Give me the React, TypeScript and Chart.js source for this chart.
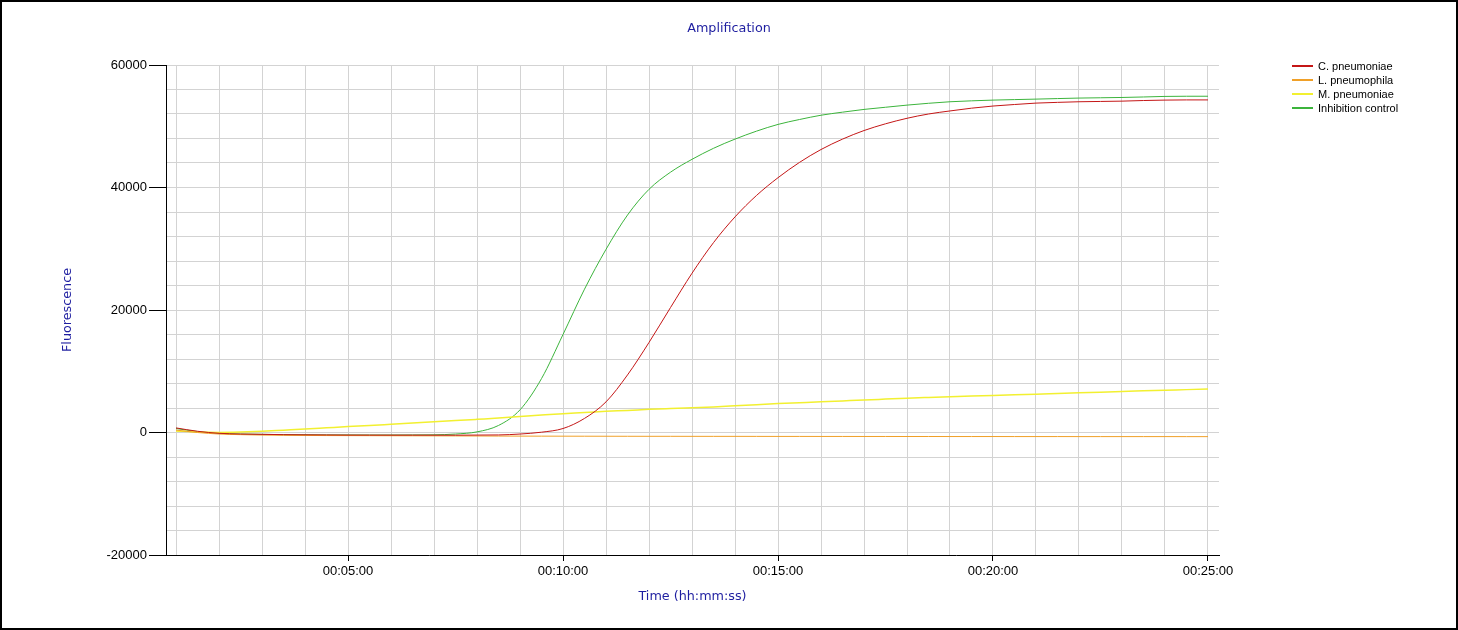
import React, { useEffect, useRef } from "react";
import { Chart, registerables } from "chart.js";

Chart.register(...registerables);

// Time in minutes (sampled every 30 s)
const minutes = [
  1, 1.5, 2, 2.5, 3, 3.5, 4, 4.5, 5, 5.5, 6, 6.5, 7, 7.5, 8, 8.5, 9, 9.5, 10, 10.5,
  11, 11.5, 12, 12.5, 13, 13.5, 14, 14.5, 15, 15.5, 16, 16.5, 17, 17.5, 18, 18.5, 19, 19.5, 20, 20.5,
  21, 21.5, 22, 22.5, 23, 23.5, 24, 24.5, 25,
];

const cPneumoniae = [
  750, 200, -130, -250, -300, -350, -380, -400, -420, -425, -430, -430, -435, -440, -420, -400, -250, 50, 650, 2300,
  5000, 9400, 14700, 20400, 26000, 31000, 35200, 38700, 41600, 44100, 46200, 47900, 49300, 50400, 51300, 52000, 52500, 52950, 53300, 53550,
  53780, 53900, 54000, 54050, 54100, 54200, 54270, 54300, 54300,
];

const lPneumophila = [
  400, 0, -250, -350, -420, -460, -480, -500, -510, -520, -530, -540, -550, -560, -570, -580, -590, -595, -600, -605,
  -610, -615, -620, -620, -625, -630, -630, -635, -640, -640, -645, -645, -650, -650, -655, -655, -660, -660, -660, -665,
  -665, -665, -670, -670, -670, -670, -670, -675, -675,
];

const mPneumoniae = [
  250, 80, 20, 80, 200, 380, 560, 760, 960, 1150, 1350, 1550, 1750, 1950, 2150, 2350, 2600, 2850, 3080, 3250,
  3450, 3600, 3780, 3920, 4050, 4180, 4350, 4530, 4720, 4870, 5020, 5160, 5300, 5450, 5600, 5720, 5830, 5940, 6060, 6170,
  6260, 6370, 6480, 6590, 6700, 6800, 6900, 7000, 7100,
];

const inhibitionControl = [
  650, 150, -130, -250, -300, -350, -380, -400, -400, -410, -410, -400, -380, -250, 100, 1150, 3700, 8800, 16000, 23400,
  29900, 35500, 39700, 42500, 44600, 46400, 47900, 49200, 50300, 51100, 51800, 52300, 52750, 53100, 53450, 53750, 54000, 54150, 54270, 54350,
  54430, 54520, 54600, 54650, 54700, 54780, 54870, 54900, 54900,
];

const seriesNames = ["C. pneumoniae", "L. pneumophila", "M. pneumoniae", "Inhibition control"];
const seriesValues = [cPneumoniae, lPneumophila, mPneumoniae, inhibitionControl];
const seriesColors = ["#c41616", "#f0a028", "#f2f030", "#3cb43c"];

// Grid / tick positions
const xGridMinutes = [1, 2, 3, 4, 5, 6, 7, 8, 9, 10, 11, 12, 13, 14, 15, 16, 17, 18, 19, 20, 21, 22, 23, 24, 25];
const xLabelEvery = 5;
const yGridValues = [
  -20000, -16000, -12000, -8000, -4000, 0, 4000, 8000, 12000, 16000, 20000, 24000, 28000, 32000, 36000, 40000,
  44000, 48000, 52000, 56000, 60000,
];
const yLabelEvery = 20000;

const TITLE_COLOR = "#1e1ea0";
const TITLE_FONT = { family: "DejaVu Sans", size: 12.75, weight: "normal" as any };

function fmtTime(min: number): string {
  const total = Math.round(min * 60);
  const h = Math.floor(total / 3600);
  const m = Math.floor((total % 3600) / 60);
  const s = total % 60;
  const p = (n: number) => String(n).padStart(2, "0");
  return `${p(h)}:${p(m)}:${p(s)}`;
}

const sideLegend = {
  id: "sideLegend",
  afterDraw(chart: any) {
    const ctx = chart.ctx;
    ctx.save();
    ctx.font = '11px "Liberation Sans", Arial, sans-serif';
    ctx.textBaseline = "middle";
    ctx.textAlign = "left";
    seriesNames.forEach((name, i) => {
      const y = 64 + i * 14;
      ctx.strokeStyle = seriesColors[i];
      ctx.lineWidth = 2;
      ctx.beginPath();
      ctx.moveTo(1290, y);
      ctx.lineTo(1311, y);
      ctx.stroke();
      ctx.fillStyle = "#000";
      ctx.fillText(name, 1316, y + 1);
    });
    ctx.restore();
  },
};

export default function App() {
  const canvasRef = useRef<HTMLCanvasElement | null>(null);

  useEffect(() => {
    document.body.style.margin = "0";
    const canvas = canvasRef.current;
    if (!canvas) return;

    const datasets = seriesNames.map((name, i) => ({
      label: name,
      data: minutes.map((m, j) => ({ x: m, y: seriesValues[i][j] })),
      borderColor: seriesColors[i],
      backgroundColor: seriesColors[i],
      borderWidth: i === 2 ? 1.5 : 1,
      pointRadius: 0,
      fill: false,
      yAxisID: "y",
      cubicInterpolationMode: "monotone" as const,
    }));

    const chart = new Chart(canvas, {
      type: "line",
      data: { datasets },
      plugins: [sideLegend],
      options: {
        responsive: false,
        animation: false,
        parsing: false as any,
        layout: { padding: 0 },
        plugins: {
          legend: { display: false },
          tooltip: { enabled: false },
          title: {
            display: true,
            text: "Amplification",
            color: TITLE_COLOR,
            font: TITLE_FONT,
            padding: { top: 19.1, bottom: 28.6 },
          },
        },
        scales: {
          x: {
            type: "linear",
            min: 0.767,
            max: 25.256,
            afterBuildTicks: (s: any) => {
              s.ticks = xGridMinutes.map((v) => ({ value: v }));
            },
            afterFit: (s: any) => {
              s.height = 73;
            },
            ticks: {
              autoSkip: false,
              maxRotation: 0,
              minRotation: 0,
              padding: 3,
              color: "#000",
              font: { family: "Liberation Sans", size: 13 },
              callback: (v: any) => (Number(v) % xLabelEvery === 0 ? fmtTime(Number(v)) : ""),
            },
            grid: {
              color: "#d3d3d3",
              lineWidth: 1,
              tickLength: 6,
              tickColor: (c: any) =>
                c.tick && c.tick.value % xLabelEvery === 0 ? "#000" : "rgba(0,0,0,0)",
            },
            border: { display: true, color: "#000", width: 1 },
            title: {
              display: true,
              text: "Time (hh:mm:ss)",
              color: TITLE_COLOR,
              font: TITLE_FONT,
              padding: { top: 0, bottom: 23.5 },
            },
          },
          y: {
            type: "linear",
            position: "left",
            min: -20000,
            max: 60000,
            afterBuildTicks: (s: any) => {
              s.ticks = yGridValues.map((v) => ({ value: v }));
            },
            afterFit: (s: any) => {
              s.width = 164;
            },
            ticks: {
              autoSkip: false,
              padding: 2,
              color: "#000",
              font: { family: "Liberation Sans", size: 13 },
              callback: (v: any) => (Number(v) % yLabelEvery === 0 ? String(v) : ""),
            },
            grid: {
              color: "#d3d3d3",
              lineWidth: 1,
              tickLength: 17,
              tickColor: (c: any) =>
                c.tick && c.tick.value % yLabelEvery === 0 ? "#000" : "rgba(0,0,0,0)",
            },
            border: { display: true, color: "#000", width: 1 },
            title: {
              display: true,
              text: "Fluorescence",
              color: TITLE_COLOR,
              font: TITLE_FONT,
              padding: { top: 58.5, bottom: 0 },
            },
          },
          // Empty right-hand box that reserves the legend margin
          yRight: {
            type: "linear",
            position: "right",
            display: true,
            min: 0,
            max: 1,
            afterFit: (s: any) => {
              s.width = 237;
            },
            ticks: { display: false },
            grid: { display: false, drawOnChartArea: false },
            border: { display: false },
            title: { display: false },
          },
        },
      },
    });

    return () => chart.destroy();
  }, []);

  return (
    <div
      style={{
        position: "absolute",
        left: 0,
        top: 0,
        width: 1458,
        height: 630,
        boxSizing: "border-box",
        border: "2px solid #000",
        background: "#fff",
      }}
    >
      <canvas ref={canvasRef} width={1454} height={626} style={{ display: "block" }} />
    </div>
  );
}
